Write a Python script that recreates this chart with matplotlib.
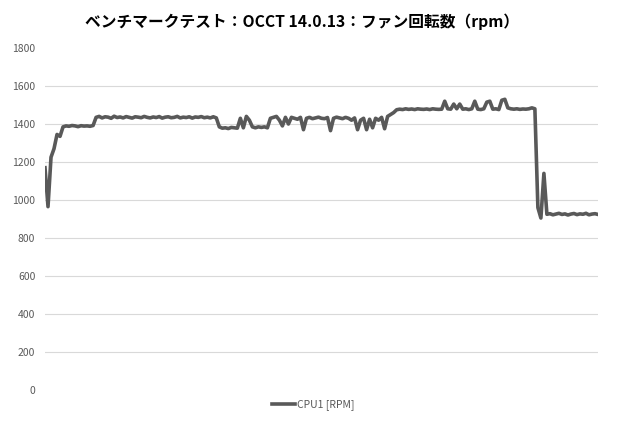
import matplotlib.pyplot as plt

plt.rcParams['font.family'] = ['Noto Sans CJK JP', 'DejaVu Sans']

# CPU1 fan speed (rpm), one sample per step
start = [1170, 965, 1225, 1270, 1345, 1335, 1385]
stage1 = [1390, 1388, 1392, 1390, 1386, 1391, 1389, 1390, 1388, 1392]
stage2 = [1435, 1440, 1432, 1438, 1436, 1430, 1441, 1434, 1437, 1432,
          1439, 1435, 1431, 1438, 1436, 1433, 1440, 1435, 1432, 1437,
          1434, 1439, 1431, 1436, 1438, 1433, 1435, 1440, 1432, 1436,
          1434, 1438, 1431, 1437, 1435, 1439, 1433, 1436, 1432, 1438,
          1432]
stage3 = [1385, 1378, 1380, 1376, 1382, 1380, 1378, 1430, 1380, 1440,
          1420, 1385, 1380, 1385, 1382, 1385, 1380, 1430, 1435, 1440,
          1420, 1390, 1435, 1400, 1435, 1430, 1425, 1435, 1370, 1430,
          1435, 1428, 1432, 1436, 1430, 1428, 1434, 1365, 1430, 1436,
          1432, 1428, 1435, 1430, 1420, 1432, 1370, 1420, 1430, 1370,
          1425, 1380, 1430, 1420, 1435, 1375, 1440, 1450, 1460]
stage4 = [1475, 1478, 1476, 1480, 1477, 1479, 1476, 1480, 1478, 1477,
          1479, 1476, 1480, 1478, 1477, 1478, 1520, 1480, 1478, 1505,
          1480, 1505, 1478, 1480, 1476, 1480, 1520, 1478, 1476, 1480,
          1515, 1520, 1478, 1480, 1476, 1525, 1530, 1485, 1480, 1478,
          1480, 1477, 1479, 1478, 1480, 1485, 1480]
drop = [960, 905, 1140]
idle = [925, 928, 922, 926, 930, 924, 927, 921, 926, 929,
        923, 927, 925, 930, 922, 926, 928, 924]

rpm = start + stage1 + stage2 + stage3 + stage4 + drop + idle
x = list(range(len(rpm)))

fig = plt.figure(figsize=(6.2, 4.24), dpi=100)
ax = fig.add_axes([45 / 620, 34 / 424, 553 / 620, 342 / 424])

for v in range(200, 1800, 200):
    ax.axhline(v, color='#d9d9d9', linewidth=0.8, zorder=1)

ax.plot(x, rpm, color='#595959', linewidth=2.6, label='CPU1 [RPM]', zorder=3)

ax.set_xlim(0, len(rpm) - 1)
ax.set_ylim(0, 1800)
ax.set_yticks(range(0, 2000, 200))
ax.set_xticks([])
ax.tick_params(axis='y', length=0, pad=7, labelsize=7.5, labelcolor='#595959')
for s in ax.spines.values():
    s.set_visible(False)

fig.text(0.487, 0.948, 'ベンチマークテスト：OCCT 14.0.13：ファン回転数（rpm）',
         ha='center', va='center', fontsize=11.3, fontweight='bold', color='#000000')

fig.legend(loc='center', bbox_to_anchor=(0.505, 0.045), frameon=False,
           fontsize=7.5, labelcolor='#595959', handlelength=2.2, handletextpad=0.2)

fig.savefig('out.png', dpi=100)
